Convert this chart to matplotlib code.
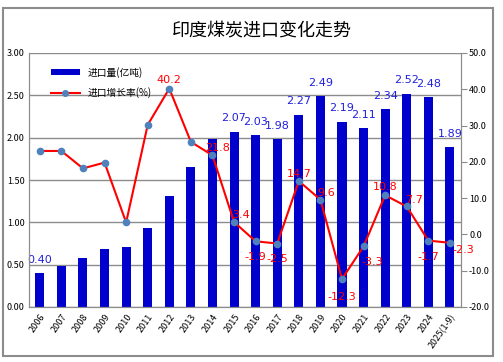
import matplotlib.pyplot as plt
import numpy as np
from matplotlib.patches import Rectangle, Patch
from matplotlib.lines import Line2D

plt.rcParams['font.family'] = ['Noto Sans CJK SC', 'DejaVu Sans']

# data
years = ['2006', '2007', '2008', '2009', '2010', '2011', '2012', '2013', '2014', '2015',
         '2016', '2017', '2018', '2019', '2020', '2021', '2022', '2023', '2024', '2025(1-9)']
volume = [0.40, 0.49, 0.58, 0.69, 0.71, 0.93, 1.31, 1.65, 1.99, 2.07,
          2.03, 1.98, 2.27, 2.49, 2.19, 2.11, 2.34, 2.52, 2.48, 1.89]
growth = [23.0, 23.0, 18.2, 19.8, 3.3, 30.2, 40.2, 25.5, 21.8, 3.4,
          -1.9, -2.5, 14.7, 9.6, -12.3, -3.3, 10.8, 7.7, -1.7, -2.3]
# which points get a data label in the original
vol_labelled = [True] + [False] * 8 + [True] * 11
growth_labelled = [False] * 6 + [True, False] + [True] * 12

# label offsets (points) for the growth labels, roughly like the Excel layout
growth_offsets = {6: (0, 6), 8: (4, 5), 9: (5, 5), 10: (0, -11), 11: (0, -11),
                  12: (0, 5), 13: (4, 5), 14: (0, -13), 15: (6, -11), 16: (0, 6),
                  17: (5, 5), 18: (0, -12), 19: (10, -5)}

x = np.arange(len(years))

fig = plt.figure(figsize=(5.03, 3.62), dpi=100)
fig.patches.append(Rectangle((3 / 503, 1 - 356 / 362), 490 / 503, 348 / 362,
                             transform=fig.transFigure, fill=False,
                             edgecolor='#8c8c8c', linewidth=1.5))

ax = fig.add_axes([29 / 503, 1 - 307 / 362, 431.7 / 503, 254 / 362])
ax2 = ax.twinx()

ax.bar(x, volume, width=0.42, color='#0000CC', zorder=2)
ax.set_ylim(0, 3)
ax.set_yticks(np.arange(0, 3.01, 0.5))
ax.set_yticklabels([f'{v:.2f}' for v in np.arange(0, 3.01, 0.5)])
ax.yaxis.grid(True, color='#8c8c8c', linewidth=1)
ax.set_axisbelow(True)
ax.set_xlim(-0.5, len(years) - 0.5)
ax.set_xticks(x)
ax.set_xticklabels(years, rotation=55, ha='right', rotation_mode='anchor')
ax.tick_params(axis='y', length=0, labelsize=6.5, pad=3)
ax.tick_params(axis='x', length=0, labelsize=6.5, pad=4)

for i, v in enumerate(volume):
    if vol_labelled[i]:
        ax.annotate(f'{v:.2f}', (x[i], v), xytext=(0, 6), textcoords='offset points',
                    ha='center', va='bottom', color='#2020DD', fontsize=8, family='DejaVu Sans')

ax2.plot(x, growth, color='#FF0000', linewidth=1.5, marker='o', markersize=4.5,
         markerfacecolor='#4F81BD', markeredgecolor='#4F81BD', zorder=3)
ax2.set_ylim(-20, 50)
ax2.set_yticks(np.arange(-20, 51, 10))
ax2.set_yticklabels([f'{v:.1f}' for v in np.arange(-20, 51, 10)])
ax2.tick_params(axis='y', length=4, color='#8c8c8c', labelsize=6.5, pad=2)

for i, g in enumerate(growth):
    if growth_labelled[i]:
        dx, dy = growth_offsets[i]
        ax2.annotate(f'{g:.1f}', (x[i], g), xytext=(dx, dy), textcoords='offset points',
                     ha='center', va='center', color='#FF0000', fontsize=8, family='DejaVu Sans')

for a in (ax, ax2):
    for s in a.spines.values():
        s.set_color('#8c8c8c')
    a.spines['top'].set_visible(False)

handles = [Patch(facecolor='#0000CC', edgecolor='none'),
           Line2D([0], [0], color='#FF0000', linewidth=1.5, marker='o', markersize=4,
                  markerfacecolor='#4F81BD', markeredgecolor='#4F81BD')]
ax.legend(handles, ['进口量(亿吨)', '进口增长率(%)'], loc='upper left', bbox_to_anchor=(0.03, 0.98),
          frameon=False, fontsize=7, handlelength=3.0, handleheight=0.6, labelspacing=1.0)

fig.text(0.52, 1 - 30 / 362, '印度煤炭进口变化走势', ha='center', va='center', fontsize=13)

fig.savefig('out.png', dpi=100)
